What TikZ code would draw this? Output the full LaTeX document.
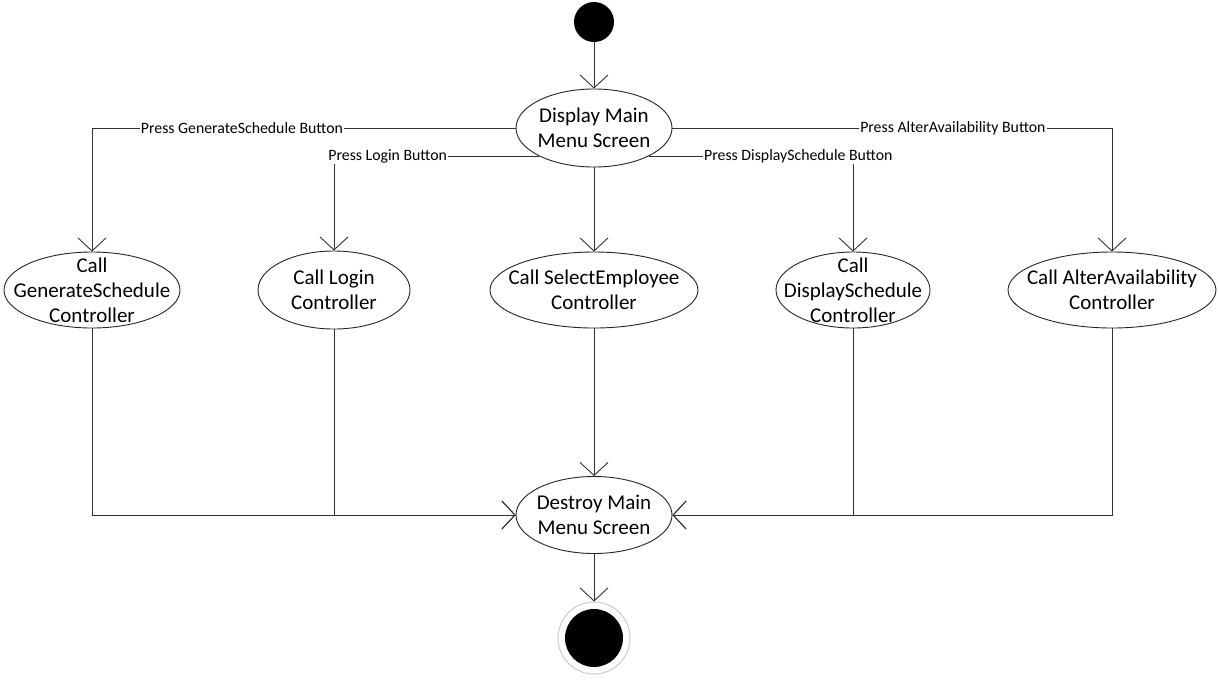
\documentclass[tikz,border=0pt]{standalone}
\usepackage{fontspec}
\setmainfont{Carlito}
\usetikzlibrary{arrows.meta,shapes.geometric}
\begin{document}
\begin{tikzpicture}[x=1pt,y=-1pt,
  act/.style={ellipse,draw=black!85,line width=0.9pt,fill=white,inner xsep=-25pt,inner ysep=-15pt,align=center,font=\fontsize{21}{25}\selectfont},
  flow/.style={draw=black!80,line width=0.9pt,-{Straight Barb[length=13pt,width=28pt]}},
  lbl/.style={fill=white,inner xsep=1pt,inner ysep=1pt,font=\fontsize{15.8}{18}\selectfont}]
\fill[white] (0,0) rectangle (1218,681);
\useasboundingbox (0,0) rectangle (1218,681);
% nodes
\node[circle,fill=black,minimum size=40pt,inner sep=0pt] (start) at (594,22) {};
\node[act,minimum width=156pt,minimum height=78pt] (disp) at (594,128) {Display Main\\Menu Screen};
\node[act,minimum width=176pt,minimum height=76pt] (gen) at (92,290) {Call\\GenerateSchedule\\Controller};
\node[act,minimum width=152pt,minimum height=78pt] (login) at (334,290) {Call Login\\Controller};
\node[act,minimum width=208pt,minimum height=76pt] (sel) at (594,290) {Call SelectEmployee\\Controller};
\node[act,minimum width=154pt,minimum height=76pt] (dsch) at (853,290) {Call\\DisplaySchedule\\Controller};
\node[act,minimum width=208pt,minimum height=76pt] (alt) at (1112,290) {Call AlterAvailability\\Controller};
\node[act,minimum width=156pt,minimum height=77pt] (dest) at (594,515) {Destroy Main\\Menu Screen};
\node[circle,draw=black!20,line width=1pt,fill=white,minimum size=72pt,inner sep=0pt] (endo) at (594,638) {};
\node[circle,fill=black,minimum size=58pt,inner sep=0pt] (endi) at (594,638) {};
% connectors
\draw[flow] (start) -- (disp);
\draw[flow] (disp.west) -| node[lbl,pos=0.323] {Press GenerateSchedule Button} (gen.north);
\draw[flow] (disp.207.4) -| node[lbl,pos=0.369] {Press Login Button} (login.north);
\draw[flow] (disp) -- (sel);
\draw[flow] (disp.-27.4) -| node[lbl,pos=0.366] {Press DisplaySchedule Button} (dsch.north);
\draw[flow] (disp.east) -| node[lbl,pos=0.319] {Press AlterAvailability Button} (alt.north);
\draw[flow] (gen.south) |- (dest.west);
\draw[flow] (login.south) |- (dest.west);
\draw[flow] (sel) -- (dest);
\draw[flow] (dsch.south) |- (dest.east);
\draw[flow] (alt.south) |- (dest.east);
\draw[flow] (dest) -- (endo);
\end{tikzpicture}
\end{document}
